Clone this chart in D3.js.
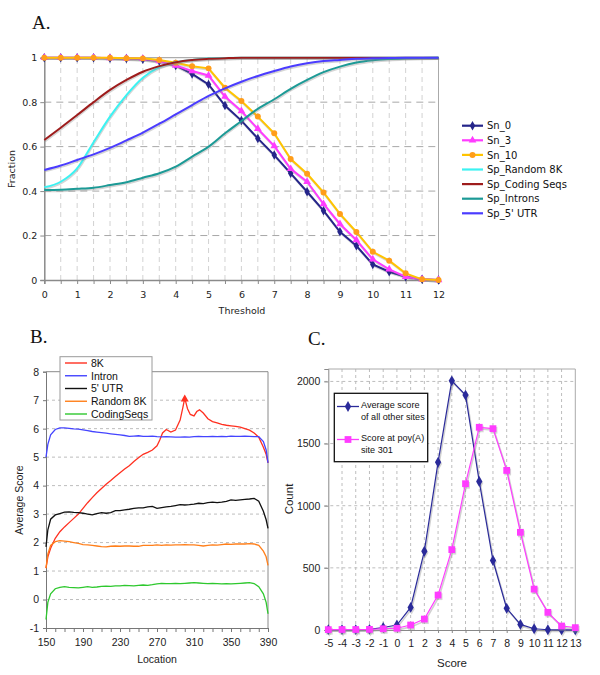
<!DOCTYPE html>
<html><head><meta charset="utf-8">
<script src="https://cdn.jsdelivr.net/npm/d3@7"></script>
<style>body{margin:0;background:#fff}svg{display:block}</style>
</head><body>
<script>
// ---------- Panel A data ----------
const thresholds = [0,0.5,1,1.5,2,2.5,3,3.5,4,4.5,5,5.5,6,6.5,7,7.5,8,8.5,9,9.5,10,10.5,11,11.5,12];
const sn0 = [1,1,1,1,0.998,0.996,0.993,0.985,0.965,0.927,0.88,0.785,0.717,0.637,0.562,0.48,0.397,0.312,0.217,0.154,0.07,0.037,0.015,0.003,0];
const sn3 = [1,1,1,1,0.999,0.997,0.995,0.985,0.965,0.94,0.92,0.825,0.76,0.68,0.603,0.50,0.442,0.342,0.252,0.18,0.093,0.048,0.015,0.003,0];
const sn10 = [1,1,1,1,1,0.998,0.997,0.99,0.977,0.962,0.952,0.865,0.805,0.735,0.66,0.544,0.478,0.394,0.297,0.216,0.127,0.087,0.03,0.003,0];
const spRandom = [0.417,0.442,0.502,0.62,0.735,0.832,0.91,0.958,0.98,0.99,0.996,0.999,1,1,1,1,1,1,1,1,1,1,1,1,1];
const spCoding = [0.63,0.685,0.742,0.80,0.855,0.90,0.937,0.962,0.98,0.99,0.995,0.998,1,1,1,1,1,1,1,1,1,1,1,1,1];
const spIntrons = [0.405,0.406,0.41,0.415,0.427,0.44,0.46,0.48,0.51,0.555,0.60,0.66,0.715,0.77,0.813,0.86,0.90,0.935,0.96,0.978,0.988,0.994,0.997,0.999,1];
const sp5UTR = [0.495,0.515,0.54,0.565,0.594,0.628,0.663,0.703,0.745,0.787,0.828,0.862,0.892,0.918,0.94,0.96,0.975,0.985,0.99,0.995,0.997,0.999,1,1,1];
const fractionTicks = [0,0.2,0.4,0.6,0.8,1];

// ---------- Panel B data ----------
const locations = [150,152,155,160,165,170,175,180,185,190,195,200,205,210,215,220,225,230,235,240,245,250,255,260,265,270,275,280,285,290,295,300,305,310,315,320,325,330,335,340,345,350,355,360,365,370,375,380,385,388,390];
const intronScore = [5.0,5.45,5.78,5.97,6.03,6.03,6.01,5.99,5.98,5.96,5.93,5.9,5.88,5.86,5.84,5.82,5.8,5.78,5.76,5.73,5.74,5.75,5.73,5.73,5.74,5.72,5.71,5.72,5.71,5.7,5.7,5.71,5.7,5.72,5.73,5.72,5.72,5.73,5.72,5.73,5.72,5.74,5.73,5.73,5.74,5.73,5.72,5.72,5.55,5.25,4.8];
const utrScore = [1.85,2.45,2.82,2.97,3.02,3.07,3.08,3.06,3.05,3.03,3.0,2.97,3.02,3.05,3.03,3.05,3.12,3.12,3.15,3.17,3.2,3.22,3.22,3.25,3.27,3.2,3.23,3.25,3.27,3.3,3.33,3.32,3.33,3.35,3.38,3.37,3.4,3.42,3.4,3.42,3.45,3.5,3.48,3.5,3.52,3.53,3.55,3.45,3.1,2.8,2.5];
const random8KScore = [1.1,1.6,1.9,2.03,2.07,2.05,2.03,2.0,1.97,1.93,1.92,1.9,1.88,1.86,1.85,1.87,1.88,1.87,1.88,1.88,1.87,1.87,1.9,1.9,1.9,1.92,1.9,1.92,1.91,1.92,1.92,1.93,1.92,1.92,1.9,1.88,1.9,1.92,1.91,1.93,1.95,1.94,1.95,1.95,1.95,1.96,1.95,1.9,1.7,1.5,1.2];
const codingScore = [-0.7,-0.1,0.2,0.38,0.43,0.45,0.43,0.42,0.41,0.43,0.45,0.43,0.44,0.46,0.47,0.46,0.48,0.48,0.5,0.49,0.48,0.5,0.51,0.5,0.52,0.55,0.57,0.56,0.56,0.57,0.56,0.57,0.58,0.59,0.58,0.57,0.56,0.57,0.56,0.55,0.56,0.55,0.56,0.57,0.58,0.59,0.56,0.45,0.2,-0.1,-0.5];
const locations8K = [150,152,155,160,165,170,175,180,185,190,195,200,205,210,215,220,225,230,235,240,245,250,255,260,265,270,273,276,280,285,290,295,298,300,303,306,310,313,316,320,325,330,335,340,345,350,355,360,365,370,375,380,385,388,390];
const score8K = [1.1,1.5,1.8,2.15,2.38,2.55,2.7,2.85,3.0,3.2,3.4,3.58,3.75,3.9,4.05,4.18,4.32,4.45,4.58,4.7,4.85,4.98,5.1,5.17,5.25,5.4,5.6,5.85,5.97,5.88,5.95,6.3,6.75,7.07,6.7,6.5,6.45,6.6,6.66,6.55,6.35,6.25,6.2,6.15,6.12,6.1,6.08,6.05,6.0,5.95,5.85,5.7,5.35,5.1,4.8];
const locationTicks = [150,190,230,270,310,350,390];
const avgScoreTicks = [-1,0,1,2,3,4,5,6,7,8];

// ---------- Panel C data ----------
const scores = [-5,-4,-3,-2,-1,0,1,2,3,4,5,6,7,8,9,10,11,12,13];
const avgOtherSites = [3,3,3,5,20,40,182,634,1350,2005,1890,1195,559,174,45,10,2,1,1];
const site301 = [3,4,4,5,10,14,40,88,281,647,1177,1631,1620,1284,786,329,142,32,19];
const countTicks = [0,500,1000,1500,2000];

// ---------- drawing ----------
const svg = d3.select("body").append("svg").attr("width",600).attr("height",675);
const serif = "'Liberation Serif','Times New Roman',serif";
const verd = "'DejaVu Sans',Verdana,sans-serif";
const arial = "'Liberation Sans',Arial,sans-serif";
const plain = d => String(d);

function titleText(x,y,t){ svg.append("text").attr("x",x).attr("y",y).text(t)
  .attr("font-family",serif).attr("font-size",19).attr("fill","#111"); }
titleText(32,29,"A.");
titleText(30,343,"B.");
titleText(308,345,"C.");

function styleAxis(g, font, size, color){
  g.selectAll("text").attr("font-family",font).attr("font-size",size).attr("fill","#222");
  g.selectAll("line").attr("stroke",color);
  g.select(".domain").attr("stroke",color);
}

// ===== Panel A =====
{
const x = d3.scaleLinear().domain([0,12]).range([44.3,438.5]);
const y = d3.scaleLinear().domain([0,1]).range([280,57.7]);
const g = svg.append("g");
g.selectAll(".vg").data(thresholds.filter(t=>t>0&&t<12)).join("line")
  .attr("x1",d=>x(d)).attr("x2",d=>x(d)).attr("y1",y(0)).attr("y2",y(1))
  .attr("stroke","#d2d2d2").attr("stroke-width",1).attr("stroke-dasharray","5,4");
g.selectAll(".hg").data(fractionTicks.filter(t=>t>0&&t<1)).join("line")
  .attr("x1",x(0)).attr("x2",x(12)).attr("y1",d=>y(d)).attr("y2",d=>y(d))
  .attr("stroke","#a8a8a8").attr("stroke-width",1).attr("stroke-dasharray","7,5");
g.append("line").attr("x1",x(0)).attr("x2",x(12)).attr("y1",y(1)).attr("y2",y(1)).attr("stroke","#999");
g.append("line").attr("x1",x(12)).attr("x2",x(12)).attr("y1",y(0)).attr("y2",y(1)).attr("stroke","#aaa");
const ya = g.append("g").attr("transform",`translate(${x(0)},0)`)
  .call(d3.axisLeft(y).tickValues(fractionTicks).tickFormat(plain).tickSize(4).tickPadding(3));
styleAxis(ya, verd, 9.5, "#8a8a8a");
ya.select(".domain").attr("stroke-width",1.5);
const xa = g.append("g").attr("transform",`translate(0,${y(0)})`)
  .call(d3.axisBottom(x).tickValues(thresholds).tickFormat(d=>Number.isInteger(d)?String(d):"").tickSize(4).tickPadding(7));
styleAxis(xa, verd, 9.5, "#8a8a8a");
xa.select(".domain").attr("stroke-width",1.5);
g.append("text").attr("x",242).attr("y",314).attr("text-anchor","middle").text("Threshold")
  .attr("font-family",verd).attr("font-size",9.5).attr("fill","#222");
g.append("text").attr("transform","translate(15,169) rotate(-90)").attr("text-anchor","middle").text("Fraction")
  .attr("font-family",verd).attr("font-size",9.5).attr("fill","#222");

const series = [
  {name:"Sn_0", vals:sn0, color:"#25258a", mcolor:"#25258a", marker:"diamond"},
  {name:"Sn_3", vals:sn3, color:"#ff3cff", mcolor:"#ff3cff", marker:"triangle"},
  {name:"Sn_10", vals:sn10, color:"#ffc400", mcolor:"#ff9d1a", marker:"circle"},
  {name:"Sp_Random 8K", vals:spRandom, color:"#3cf2f2"},
  {name:"Sp_Coding Seqs", vals:spCoding, color:"#9e1c1c"},
  {name:"Sp_Introns", vals:spIntrons, color:"#1c9a96"},
  {name:"Sp_5' UTR", vals:sp5UTR, color:"#4b3cff"}
];
const symType = {diamond:d3.symbolDiamond, triangle:d3.symbolTriangle, circle:d3.symbolCircle};
const symSize = {diamond:26, triangle:26, circle:28};
series.forEach(s=>{
  const pts = thresholds.map((t,i)=>[t,s.vals[i]]);
  const line = d3.line().x(d=>x(d[0])).y(d=>y(d[1])).curve(s.marker? d3.curveLinear : d3.curveMonotoneX);
  g.append("path").attr("d",line(pts)).attr("fill","none").attr("stroke","#888").attr("stroke-opacity",0.35)
    .attr("stroke-width",2).attr("transform","translate(0.6,1.4)");
  g.append("path").attr("d",line(pts)).attr("fill","none").attr("stroke",s.color).attr("stroke-width",2);
  if(s.marker){
    g.selectAll(null).data(pts).join("path")
      .attr("d",d3.symbol().type(symType[s.marker]).size(symSize[s.marker]))
      .attr("transform",d=>`translate(${x(d[0])},${y(d[1])})`).attr("fill",s.mcolor);
  }
});
series.forEach((s,i)=>{
  const ly = 125.7 + i*14.6;
  g.append("line").attr("x1",462).attr("x2",483).attr("y1",ly).attr("y2",ly).attr("stroke",s.color).attr("stroke-width",2.2);
  if(s.marker) g.append("path").attr("d",d3.symbol().type(symType[s.marker]).size(symSize[s.marker])())
     .attr("transform",`translate(472.5,${ly})`).attr("fill",s.mcolor);
  g.append("text").attr("x",487).attr("y",ly).attr("dy","0.36em").text(s.name)
    .attr("font-family",verd).attr("font-size",10).attr("fill","#111");
});
}

// ===== Panel B =====
{
const x = d3.scaleLinear().domain([150,390]).range([46,268]);
const y = d3.scaleLinear().domain([-1,8]).range([628,371.7]);
const g = svg.append("g");
g.selectAll(".hg").data(avgScoreTicks.filter(t=>t>-1&&t<8)).join("line")
  .attr("x1",x(150)).attr("x2",x(390)).attr("y1",d=>y(d)).attr("y2",d=>y(d))
  .attr("stroke","#bdbdbd").attr("stroke-dasharray","3,3");
g.append("line").attr("x1",x(150)).attr("x2",x(390)).attr("y1",y(8)).attr("y2",y(8)).attr("stroke","#8a8a8a");
g.append("line").attr("x1",x(390)).attr("x2",x(390)).attr("y1",y(-1)).attr("y2",y(8)).attr("stroke","#8a8a8a");
const ya = g.append("g").attr("transform",`translate(${x(150)},0)`)
  .call(d3.axisLeft(y).tickValues(avgScoreTicks).tickFormat(plain).tickSize(3).tickPadding(4));
styleAxis(ya, arial, 10.5, "#777");
const xa = g.append("g").attr("transform",`translate(0,${y(-1)})`)
  .call(d3.axisBottom(x).tickValues(d3.range(150,391,10)).tickFormat(d=>locationTicks.includes(d)?String(d):"").tickSize(4).tickPadding(7));
styleAxis(xa, arial, 10.5, "#777");
g.append("text").attr("x",157).attr("y",663).attr("text-anchor","middle").text("Location")
  .attr("font-family",arial).attr("font-size",10.5).attr("fill","#222");
g.append("text").attr("transform","translate(23,500) rotate(-90)").attr("text-anchor","middle").text("Average Score")
  .attr("font-family",arial).attr("font-size",10.5).attr("fill","#222");
const series = [
  {name:"8K", locs:locations8K, vals:score8K, color:"#ff3020"},
  {name:"Intron", locs:locations, vals:intronScore, color:"#4444ff"},
  {name:"5' UTR", locs:locations, vals:utrScore, color:"#111"},
  {name:"Random 8K", locs:locations, vals:random8KScore, color:"#ff7f1a"},
  {name:"CodingSeqs", locs:locations, vals:codingScore, color:"#2ec82e"}
];
const line = d3.line().x(d=>x(d[0])).y(d=>y(d[1])).curve(d3.curveLinear);
series.forEach(s=>{
  const pts = s.locs.map((l,i)=>[l,s.vals[i]]);
  g.append("path").attr("d",line(pts)).attr("fill","none").attr("stroke",s.color).attr("stroke-width",1.3);
});
const iMax = d3.maxIndex(score8K);
g.append("path").attr("d",d3.symbol().type(d3.symbolTriangle).size(28)())
  .attr("transform",`translate(${x(locations8K[iMax])},${y(score8K[iMax])+1})`).attr("fill","#ff3020");
g.append("rect").attr("x",60).attr("y",356.7).attr("width",92).attr("height",63.3)
  .attr("fill","#fff").attr("stroke","#9a9a9a");
series.forEach((s,i)=>{
  const ly = 363 + i*12.75;
  g.append("line").attr("x1",65).attr("x2",87).attr("y1",ly).attr("y2",ly).attr("stroke",s.color).attr("stroke-width",1.4);
  g.append("text").attr("x",91).attr("y",ly).attr("dy","0.36em").text(s.name)
    .attr("font-family",arial).attr("font-size",10.5).attr("fill","#111");
});
}

// ===== Panel C =====
{
const x = d3.scaleLinear().domain([-5,13]).range([328.3,575.3]);
const y = d3.scaleLinear().domain([0,2100]).range([630,369]);
const g = svg.append("g");
g.selectAll(".vg").data(scores.filter(s=>s>-5&&s<13)).join("line")
  .attr("x1",d=>x(d)).attr("x2",d=>x(d)).attr("y1",y(0)).attr("y2",y(2100))
  .attr("stroke","#bdbdbd").attr("stroke-dasharray","3,3");
g.selectAll(".hg").data(countTicks.filter(t=>t>0)).join("line")
  .attr("x1",x(-5)-4).attr("x2",x(13)).attr("y1",d=>y(d)).attr("y2",d=>y(d))
  .attr("stroke","#bdbdbd").attr("stroke-dasharray","3,3");
g.append("line").attr("x1",x(-5)).attr("x2",x(13)).attr("y1",y(2100)).attr("y2",y(2100)).attr("stroke","#aaa");
g.append("line").attr("x1",x(13)).attr("x2",x(13)).attr("y1",y(0)).attr("y2",y(2100)).attr("stroke","#aaa");
const ya = g.append("g").attr("transform",`translate(${x(-5)},0)`)
  .call(d3.axisLeft(y).tickValues(countTicks).tickFormat(plain).tickSize(4).tickPadding(4));
styleAxis(ya, arial, 10.5, "#888");
const xa = g.append("g").attr("transform",`translate(0,${y(0)})`)
  .call(d3.axisBottom(x).tickValues(scores).tickFormat(plain).tickSize(3).tickPadding(7));
styleAxis(xa, arial, 10.5, "#888");
g.append("text").attr("x",452).attr("y",667).attr("text-anchor","middle").text("Score")
  .attr("font-family",arial).attr("font-size",11.5).attr("fill","#222");
g.append("text").attr("transform","translate(293,499) rotate(-90)").attr("text-anchor","middle").text("Count")
  .attr("font-family",arial).attr("font-size",11.5).attr("fill","#222");
const series = [
  {lines:["Average score","of all other sites"], vals:avgOtherSites, color:"#2a2a9a", marker:d3.symbolDiamond, size:34},
  {lines:["Score at poy(A)","site 301"], vals:site301, color:"#ff3cff", marker:d3.symbolSquare, size:46}
];
const line = d3.line().x(d=>x(d[0])).y(d=>y(d[1]));
series.forEach(s=>{
  const pts = scores.map((sc,i)=>[sc,s.vals[i]]);
  g.append("path").attr("d",line(pts)).attr("fill","none").attr("stroke","#999").attr("stroke-opacity",0.45)
    .attr("stroke-width",1.6).attr("transform","translate(1,1.6)");
  g.selectAll(null).data(pts).join("path").attr("d",d3.symbol().type(s.marker).size(s.size))
    .attr("transform",d=>`translate(${x(d[0])+1},${y(d[1])+1.6})`).attr("fill","#999").attr("fill-opacity",0.4);
  g.append("path").attr("d",line(pts)).attr("fill","none").attr("stroke",s.color).attr("stroke-width",1.2);
  g.selectAll(null).data(pts).join("path").attr("d",d3.symbol().type(s.marker).size(s.size))
    .attr("transform",d=>`translate(${x(d[0])},${y(d[1])})`).attr("fill",s.color);
});
g.append("rect").attr("x",334.3).attr("y",393.3).attr("width",93.4).attr("height",68.4)
  .attr("fill","#fff").attr("stroke","#111").attr("stroke-width",1.3);
series.forEach((s,i)=>{
  const ly = 406.5 + i*33;
  g.append("line").attr("x1",337).attr("x2",359).attr("y1",ly).attr("y2",ly).attr("stroke",s.color).attr("stroke-width",1.3);
  g.append("path").attr("d",d3.symbol().type(s.marker).size(s.size)()).attr("transform",`translate(348,${ly})`).attr("fill",s.color);
  s.lines.forEach((t,j)=>{
    g.append("text").attr("x",361).attr("y",ly-1.5+j*11.7).attr("dy","0.36em").text(t)
      .attr("font-family",arial).attr("font-size",9.1).attr("fill","#111");
  });
});
}
</script>
</body></html>
